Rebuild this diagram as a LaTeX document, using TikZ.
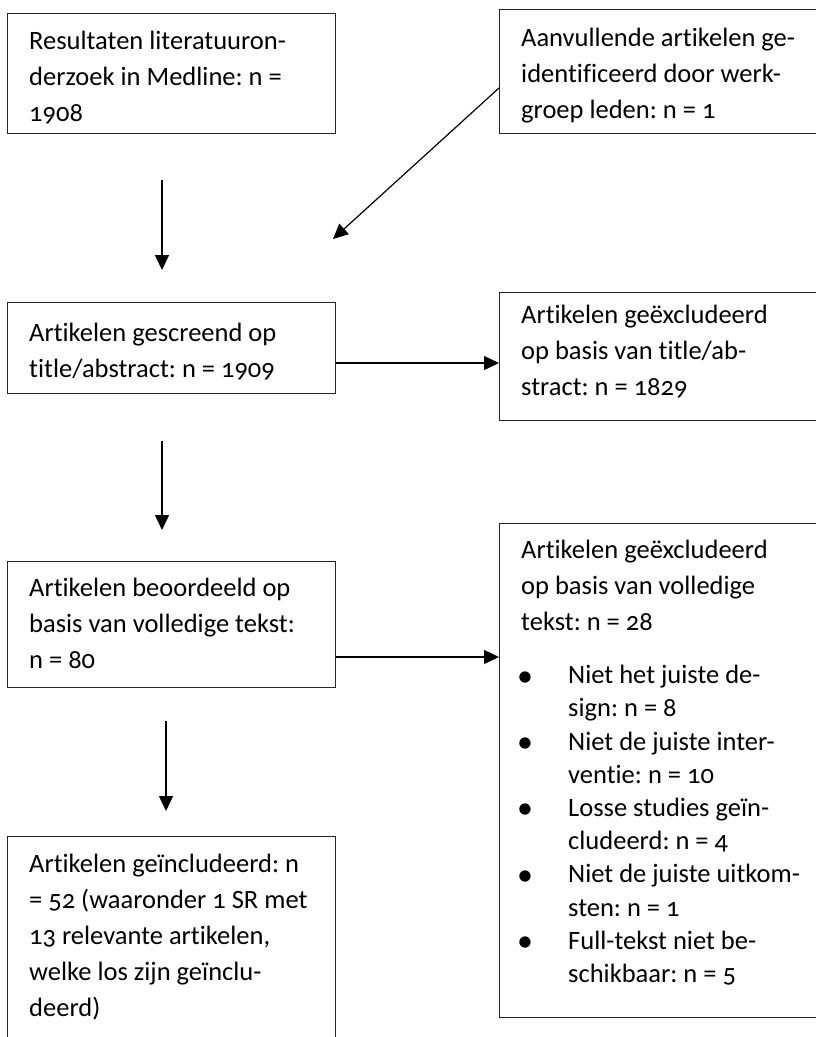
\documentclass[tikz,border=0pt]{standalone}
\usepackage{fontspec}
\setmainfont{Carlito}[Numbers=OldStyle,Ligatures=NoCommon]
\usetikzlibrary{arrows.meta}
\frenchspacing
\newcommand{\bul}{\makebox[47pt][l]{\hspace*{-4pt}\raisebox{-2.5pt}{\fontsize{32}{32}\selectfont\textbullet}}}
\begin{document}
\begin{tikzpicture}[x=1pt,y=1pt,
  box/.style={draw=black!85,line width=0.8pt,anchor=north west,inner sep=0pt},
  txt/.style={anchor=north west,inner sep=0pt,align=left,
    font=\fontsize{26.5}{36}\selectfont},
  itemtxt/.style={txt,font=\fontsize{26.5}{33.2}\selectfont},
  flow/.style={line width=1.4pt,-{Triangle[length=15pt,width=14pt]}}]
\useasboundingbox (0,0) rectangle (816,-1037);
\clip (0,0) rectangle (816,-1037);
\fill[white] (0,0) rectangle (816,-1037);

% boxes
\node[box,minimum width=328pt,minimum height=120pt] (res) at (7,-13) {};
\node[box,minimum width=340pt,minimum height=124pt] (aan) at (499,-9) {};
\node[box,minimum width=328pt,minimum height=91pt]  (scr) at (7,-302) {};
\node[box,minimum width=340pt,minimum height=128pt] (exa) at (499,-292) {};
\node[box,minimum width=328pt,minimum height=126pt] (beo) at (7,-561) {};
\node[box,minimum width=340pt,minimum height=494pt] (exv) at (499,-523) {};
\node[box,minimum width=328pt,minimum height=230pt] (inc) at (7,-836) {};

% texts
\node[txt] (tres) at (29,-31) {Resultaten literatuuron-\\derzoek in Medline: n =\\1908};
\node[txt] (taan) at (521,-28) {Aanvullende artikelen ge-\\identificeerd door werk-\\groep leden: n = 1};
\node[txt] (tscr) at (29,-323) {Artikelen gescreend op\\title/abstract: n = 1909};
\node[txt] (texa) at (521,-305) {Artikelen geëxcludeerd\\op basis van title/ab-\\stract: n = 1829};
\node[txt] (tbeo) at (29,-578) {Artikelen beoordeeld op\\basis van volledige tekst:\\n = 80};
\node[txt] (texv) at (521,-540) {Artikelen geëxcludeerd\\op basis van volledige\\tekst: n = 28};
\node[itemtxt] (tlist) at (521,-665) {%
\bul Niet het juiste de-\\
\hspace*{47pt}sign: n = 8\\
\bul Niet de juiste inter-\\
\hspace*{47pt}ventie: n = 10\\
\bul Losse studies geïn-\\
\hspace*{47pt}cludeerd: n = 4\\
\bul Niet de juiste uitkom-\\
\hspace*{47pt}sten: n = 1\\
\bul Full-tekst niet be-\\
\hspace*{47pt}schikbaar: n = 5};
\node[txt] (tinc) at (29,-854) {Artikelen geïncludeerd: n\\= 52 (waaronder 1 SR met\\13 relevante artikelen,\\welke los zijn geïnclu-\\deerd)};

% connector end points
\coordinate (d1s) at (162,-180);
\coordinate (d1e) at (162,-270);
\coordinate (dgs) at (aan.west |- 0,-88);
\coordinate (dge) at (333,-239);
\coordinate (h1s) at (scr.east |- 0,-363);
\coordinate (h1e) at (exa.west |- 0,-363);
\coordinate (d2s) at (162,-441);
\coordinate (d2e) at (162,-530);
\coordinate (h2s) at (beo.east |- 0,-657);
\coordinate (h2e) at (exv.west |- 0,-657);
\coordinate (d3s) at (166,-721);
\coordinate (d3e) at (166,-811);

% connectors
\draw[flow] (d1s) -- (d1e);
\draw[flow,line width=1.2pt] (dgs) -- (dge);
\draw[flow] (h1s) -- (h1e);
\draw[flow] (d2s) -- (d2e);
\draw[flow] (h2s) -- (h2e);
\draw[flow] (d3s) -- (d3e);
\end{tikzpicture}
\end{document}
